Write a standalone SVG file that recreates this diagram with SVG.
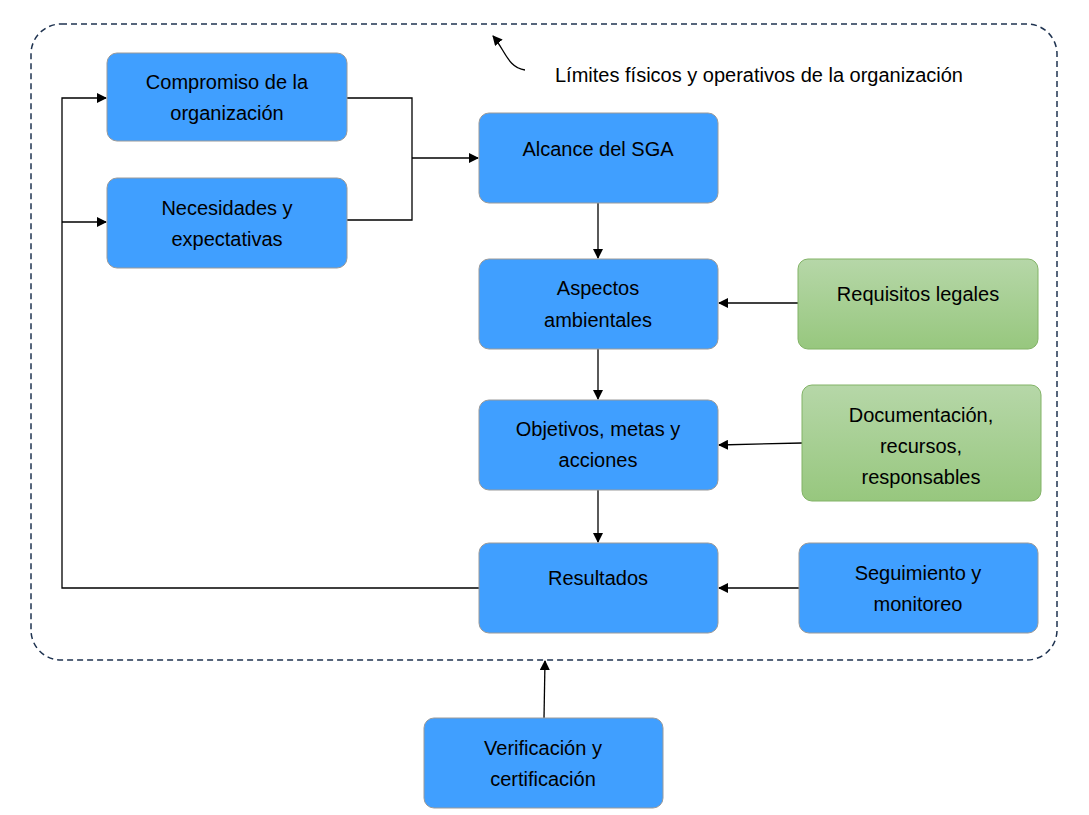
<svg xmlns="http://www.w3.org/2000/svg" width="1089" height="815" viewBox="0 0 1089 815">
<style>
.n{fill:#409FFF;stroke:#9A9A9A;stroke-width:1}
.g{fill:url(#gr);stroke:#82B366;stroke-width:1}
text{font-family:"Liberation Sans",Arial,sans-serif;font-size:20px;fill:#000;text-anchor:middle}
.c{fill:none;stroke:#000;stroke-width:1.3}
</style>
<defs>
<linearGradient id="gr" x1="0" y1="0" x2="0" y2="1"><stop offset="0" stop-color="#B6D7A8"/><stop offset="1" stop-color="#97C77E"/></linearGradient>
<marker id="a" markerWidth="10" markerHeight="10" refX="9" refY="5" orient="auto" markerUnits="userSpaceOnUse"><path d="M0,0L10,5L0,10z" fill="#000"/></marker>
</defs>
<rect x="31" y="24" width="1026" height="636" rx="30" fill="none" stroke="#1F3350" stroke-width="1.5" stroke-dasharray="6,4"/>
<g id="limite"><path d="M525,70 C508,68 505,50 493,36" class="c" marker-end="url(#a)"/><text x="759" y="82" style="font-size:20px">Límites físicos y operativos de la organización</text></g>
<g id="connectors">
<path class="c" d="M347,98H412V220H347"/>
<path class="c" d="M412,158H478" marker-end="url(#a)"/>
<path class="c" d="M598,203V258" marker-end="url(#a)"/>
<path class="c" d="M598,349V399" marker-end="url(#a)"/>
<path class="c" d="M598,490V542" marker-end="url(#a)"/>
<path class="c" d="M479,588H62V98H106" marker-end="url(#a)"/>
<path class="c" d="M62,222H106" marker-end="url(#a)"/>
<path class="c" d="M798,303H719" marker-end="url(#a)"/>
<path class="c" d="M802,443L719,445" marker-end="url(#a)"/>
<path class="c" d="M799,588H719" marker-end="url(#a)"/>
<path class="c" d="M544,718L545,661" marker-end="url(#a)"/>
</g>
<g id="compromiso"><rect class="n" x="107" y="53" width="240" height="88" rx="10"/><text x="227" y="89">Compromiso de la</text><text x="227" y="120">organización</text></g>
<g id="necesidades"><rect class="n" x="107" y="178" width="240" height="90" rx="10"/><text x="227" y="215">Necesidades y</text><text x="227" y="246">expectativas</text></g>
<g id="alcance"><rect class="n" x="479" y="113" width="239" height="90" rx="10"/><text x="598" y="156">Alcance del SGA</text></g>
<g id="aspectos"><rect class="n" x="479" y="259" width="239" height="90" rx="10"/><text x="598" y="295">Aspectos</text><text x="598" y="327">ambientales</text></g>
<g id="objetivos"><rect class="n" x="479" y="400" width="239" height="90" rx="10"/><text x="598" y="436">Objetivos, metas y</text><text x="598" y="467">acciones</text></g>
<g id="resultados"><rect class="n" x="479" y="543" width="239" height="90" rx="10"/><text x="598" y="585">Resultados</text></g>
<g id="requisitos"><rect class="g" x="798" y="259" width="240" height="90" rx="10"/><text x="918" y="301">Requisitos legales</text></g>
<g id="documentacion"><rect class="g" x="802" y="385" width="239" height="116" rx="10"/><text x="921" y="422">Documentación,</text><text x="921" y="453">recursos,</text><text x="921" y="484">responsables</text></g>
<g id="seguimiento"><rect class="n" x="799" y="543" width="239" height="90" rx="10"/><text x="918" y="580">Seguimiento y</text><text x="918" y="611">monitoreo</text></g>
<g id="verificacion"><rect class="n" x="424" y="718" width="239" height="90" rx="10"/><text x="543" y="755">Verificación y</text><text x="543" y="786">certificación</text></g>
</svg>
